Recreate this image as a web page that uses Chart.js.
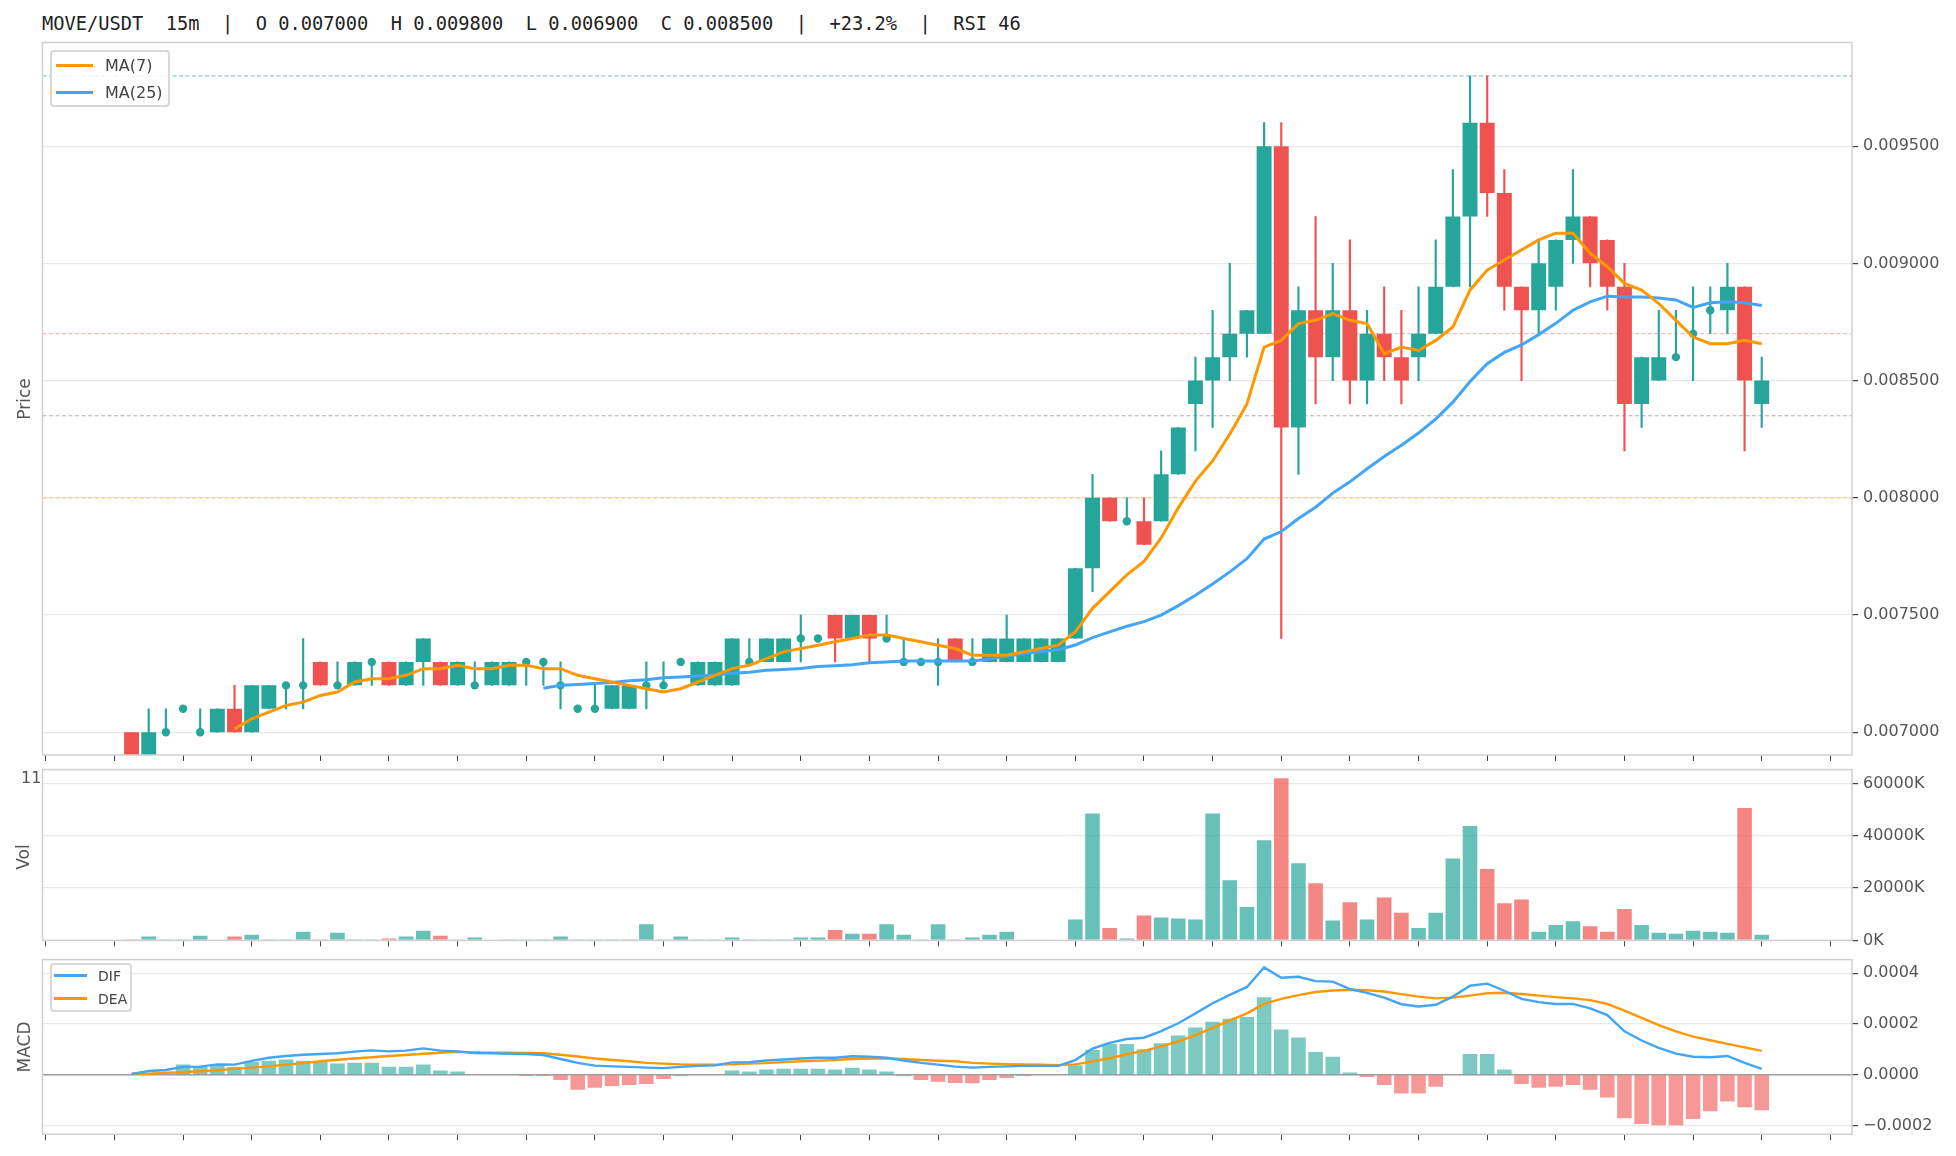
<!DOCTYPE html>
<html>
<head>
<meta charset="utf-8">
<title>MOVE/USDT 15m</title>
<script src="https://cdn.jsdelivr.net/npm/chart.js@4.4.0/dist/chart.umd.min.js"></script>
<style>
  html, body { margin: 0; padding: 0; background: #fff; }
  body { position: relative; width: 1956px; height: 1156px; overflow: hidden; font-family: 'DejaVu Sans', sans-serif; }
  canvas { position: absolute; left: 0; }
  #title { position: absolute; left: 42px; top: 14.5px; font: 18.7px/1 'DejaVu Sans Mono', monospace; color: #222; white-space: pre; }
  .axis-title { position: absolute; font-size: 17px; color: #555; transform: translate(-50%, -50%) rotate(-90deg); white-space: nowrap; }
  .legend { position: absolute; border: 2px solid #d8d8d8; border-radius: 4px; background: rgba(255,255,255,0.85); }
  .legend .swatch { position: absolute; }
  .legend .label { position: absolute; color: #444; line-height: 1; }
  .stray { position: absolute; font-size: 16px; color: #555; line-height: 1; }
</style>
</head>
<body>

<div id="title">MOVE/USDT  15m  |  O 0.007000  H 0.009800  L 0.006900  C 0.008500  |  +23.2%  |  RSI 46</div>

<canvas id="price-chart" width="1956" height="770" style="top:0"></canvas>
<canvas id="vol-chart" width="1956" height="200" style="top:755px"></canvas>
<canvas id="macd-chart" width="1956" height="211" style="top:945px"></canvas>

<div class="axis-title" style="left:24px; top:399px">Price</div>
<div class="axis-title" style="left:23px; top:857px">Vol</div>
<div class="axis-title" style="left:24px; top:1047px">MACD</div>

<div class="legend" style="left:50px; top:50px; width:116px; height:53px">
  <div class="swatch" style="left:4px; top:12px; width:37px; height:3px; background:#ff9800"></div>
  <div class="label" style="left:53px; top:6px; font-size:16px">MA(7)</div>
  <div class="swatch" style="left:4px; top:39px; width:37px; height:3px; background:#42a5f5"></div>
  <div class="label" style="left:53px; top:33px; font-size:16px">MA(25)</div>
</div>

<div class="legend" style="left:50px; top:963px; width:78px; height:45px">
  <div class="swatch" style="left:2px; top:9px; width:33px; height:2.5px; background:#42a5f5"></div>
  <div class="label" style="left:46px; top:4px; font-size:14px">DIF</div>
  <div class="swatch" style="left:2px; top:32px; width:33px; height:2.5px; background:#ff9800"></div>
  <div class="label" style="left:46px; top:27px; font-size:14px">DEA</div>
</div>

<div class="stray" style="left:21px; top:770px">11</div>

<script>
const opens = [
  0.0070, 0.0069, 0.0070, 0.0071, 0.0070, 0.0070, 0.0071, 0.0070, 0.0071, 0.0072,
  0.0072, 0.0073, 0.0072, 0.0072, 0.0073, 0.0073, 0.0072, 0.0073, 0.0073, 0.0072,
  0.0072, 0.0072, 0.0072, 0.0073, 0.0073, 0.0072, 0.0071, 0.0071, 0.0071, 0.0071,
  0.0072, 0.0072, 0.0073, 0.0072, 0.0072, 0.0072, 0.0073, 0.0073, 0.0073, 0.0074,
  0.0074, 0.0075, 0.0074, 0.0075, 0.0074, 0.0073, 0.0073, 0.0073, 0.0074, 0.0073,
  0.0073, 0.0073, 0.0073, 0.0073, 0.0073, 0.0074, 0.0077, 0.0080, 0.0079, 0.0079,
  0.0079, 0.0081, 0.0084, 0.0085, 0.0086, 0.0087, 0.0087, 0.0095, 0.0083, 0.0088,
  0.0086, 0.0088, 0.0085, 0.0087, 0.0086, 0.0086, 0.0087, 0.0089, 0.0092, 0.0096,
  0.0093, 0.0089, 0.0088, 0.0089, 0.0091, 0.0092, 0.0091, 0.0089, 0.0084, 0.0085,
  0.0086, 0.0087, 0.0088, 0.0088, 0.0089, 0.0084
];
const highs = [
  0.0070, 0.0071, 0.0071, 0.0071, 0.0071, 0.0071, 0.0072, 0.0072, 0.0072, 0.0072,
  0.0074, 0.0073, 0.0073, 0.0073, 0.0073, 0.0073, 0.0073, 0.0074, 0.0073, 0.0073,
  0.0073, 0.0073, 0.0073, 0.0073, 0.0073, 0.0073, 0.0071, 0.0072, 0.0072, 0.0072,
  0.0073, 0.0073, 0.0073, 0.0073, 0.0073, 0.0074, 0.0074, 0.0074, 0.0074, 0.0075,
  0.0074, 0.0075, 0.0075, 0.0075, 0.0075, 0.0074, 0.0073, 0.0074, 0.0074, 0.0074,
  0.0074, 0.0075, 0.0074, 0.0074, 0.0074, 0.0077, 0.0081, 0.0080, 0.0080, 0.0080,
  0.0082, 0.0083, 0.0086, 0.0088, 0.0090, 0.0088, 0.0096, 0.0096, 0.0089, 0.0092,
  0.0090, 0.0091, 0.0088, 0.0089, 0.0088, 0.0089, 0.0091, 0.0094, 0.0098, 0.0098,
  0.0094, 0.0089, 0.0091, 0.0091, 0.0094, 0.0092, 0.0091, 0.0090, 0.0086, 0.0088,
  0.0088, 0.0089, 0.0089, 0.0090, 0.0089, 0.0086
];
const lows = [
  0.0069, 0.0069, 0.0070, 0.0071, 0.0070, 0.0070, 0.0070, 0.0070, 0.0071, 0.0071,
  0.0071, 0.0072, 0.0072, 0.0072, 0.0072, 0.0072, 0.0072, 0.0072, 0.0072, 0.0072,
  0.0072, 0.0072, 0.0072, 0.0072, 0.0072, 0.0071, 0.0071, 0.0071, 0.0071, 0.0071,
  0.0071, 0.0072, 0.0073, 0.0072, 0.0072, 0.0072, 0.0073, 0.0073, 0.0073, 0.0073,
  0.0074, 0.0073, 0.0074, 0.0073, 0.0074, 0.0073, 0.0073, 0.0072, 0.0073, 0.0073,
  0.0073, 0.0073, 0.0073, 0.0073, 0.0073, 0.0074, 0.0076, 0.0079, 0.0079, 0.0078,
  0.0079, 0.0081, 0.0082, 0.0083, 0.0085, 0.0086, 0.0087, 0.0074, 0.0081, 0.0084,
  0.0085, 0.0084, 0.0084, 0.0085, 0.0084, 0.0085, 0.0087, 0.0089, 0.0089, 0.0092,
  0.0088, 0.0085, 0.0087, 0.0088, 0.0090, 0.0089, 0.0088, 0.0082, 0.0083, 0.0085,
  0.0086, 0.0085, 0.0087, 0.0087, 0.0082, 0.0083
];
const closes = [
  0.0069, 0.0070, 0.0070, 0.0071, 0.0070, 0.0071, 0.0070, 0.0072, 0.0072, 0.0072,
  0.0072, 0.0072, 0.0072, 0.0073, 0.0073, 0.0072, 0.0073, 0.0074, 0.0072, 0.0073,
  0.0072, 0.0073, 0.0073, 0.0073, 0.0073, 0.0072, 0.0071, 0.0071, 0.0072, 0.0072,
  0.0072, 0.0072, 0.0073, 0.0073, 0.0073, 0.0074, 0.0073, 0.0074, 0.0074, 0.0074,
  0.0074, 0.0074, 0.0075, 0.0074, 0.0074, 0.0073, 0.0073, 0.0073, 0.0073, 0.0073,
  0.0074, 0.0074, 0.0074, 0.0074, 0.0074, 0.0077, 0.0080, 0.0079, 0.0079, 0.0078,
  0.0081, 0.0083, 0.0085, 0.0086, 0.0087, 0.0088, 0.0095, 0.0083, 0.0088, 0.0086,
  0.0088, 0.0085, 0.0087, 0.0086, 0.0085, 0.0087, 0.0089, 0.0092, 0.0096, 0.0093,
  0.0089, 0.0088, 0.0090, 0.0091, 0.0092, 0.0090, 0.0089, 0.0084, 0.0086, 0.0086,
  0.0086, 0.0087, 0.0088, 0.0089, 0.0085, 0.0085
];

// moving averages as drawn (null before the window fills)
const ma7 = [
  null, null, null, null, null, null, 0.0070143, 0.0070571, 0.0070857, 0.0071143,
  0.0071286, 0.0071571, 0.0071714, 0.0072143, 0.0072286, 0.0072286, 0.0072429, 0.0072714, 0.0072714, 0.0072857,
  0.0072714, 0.0072714, 0.0072857, 0.0072857, 0.0072714, 0.0072714, 0.0072429, 0.0072286, 0.0072143, 0.0072000,
  0.0071857, 0.0071714, 0.0071857, 0.0072143, 0.0072429, 0.0072714, 0.0072857, 0.0073143, 0.0073429, 0.0073571,
  0.0073714, 0.0073857, 0.0074000, 0.0074143, 0.0074143, 0.0074000, 0.0073857, 0.0073714, 0.0073571, 0.0073286,
  0.0073286, 0.0073286, 0.0073429, 0.0073571, 0.0073714, 0.0074286, 0.0075286, 0.0076000, 0.0076714, 0.0077286,
  0.0078286, 0.0079571, 0.0080714, 0.0081571, 0.0082714, 0.0084000, 0.0086429, 0.0086714, 0.0087429, 0.0087571,
  0.0087857, 0.0087571, 0.0087429, 0.0086143, 0.0086429, 0.0086286, 0.0086714, 0.0087286, 0.0088857, 0.0089714,
  0.0090143, 0.0090571, 0.0091000, 0.0091286, 0.0091286, 0.0090429, 0.0089857, 0.0089143, 0.0088857, 0.0088286,
  0.0087571, 0.0086857, 0.0086571, 0.0086571, 0.0086714, 0.0086571
];
const ma25 = [
  null, null, null, null, null, null, null, null, null, null,
  null, null, null, null, null, null, null, null, null, null,
  null, null, null, null, 0.007188, 0.007200, 0.007204, 0.007208, 0.007212, 0.007220,
  0.007224, 0.007232, 0.007236, 0.007240, 0.007244, 0.007252, 0.007256, 0.007264, 0.007268, 0.007272,
  0.007280, 0.007284, 0.007288, 0.007296, 0.007300, 0.007304, 0.007304, 0.007304, 0.007304, 0.007304,
  0.007312, 0.007324, 0.007336, 0.007344, 0.007352, 0.007372, 0.007404, 0.007428, 0.007452, 0.007472,
  0.007500, 0.007540, 0.007584, 0.007632, 0.007684, 0.007740, 0.007824, 0.007856, 0.007912, 0.007960,
  0.008020, 0.008068, 0.008124, 0.008176, 0.008224, 0.008276, 0.008336, 0.008408, 0.008496, 0.008572,
  0.008620, 0.008652, 0.008696, 0.008744, 0.008800, 0.008836, 0.008860, 0.008856, 0.008856, 0.008852,
  0.008844, 0.008812, 0.008832, 0.008836, 0.008832, 0.008820
];

// volume in K
const volumes = [
  350, 1450, 350, 350, 1800, 0, 1450, 2200, 350, 350,
  3300, 350, 2900, 350, 350, 700, 1450, 3650, 1800, 350,
  1100, 0, 350, 350, 350, 1450, 350, 350, 350, 350,
  6200, 350, 1450, 350, 350, 1100, 350, 350, 350, 1100,
  1100, 4000, 2550, 2550, 6200, 2200, 350, 6200, 350, 1100,
  2200, 3300, 0, 0, 0, 8000, 48500, 4750, 700, 9500,
  8750, 8400, 8000, 48500, 22950, 12750, 38250, 61950, 29500, 21850,
  7650, 14550, 8000, 16400, 10550, 4750, 10550, 31350, 43700, 27300,
  14200, 15650, 3300, 5850, 7300, 5450, 3300, 12000, 5850, 2900,
  2550, 3650, 3300, 2900, 50650, 2200
];

// MACD panel
const dif = [
  0.0000030, 0.0000150, 0.0000190, 0.0000310, 0.0000320, 0.0000410, 0.0000400, 0.0000550, 0.0000670, 0.0000740,
  0.0000790, 0.0000820, 0.0000850, 0.0000910, 0.0000960, 0.0000920, 0.0000950, 0.0001040, 0.0000950, 0.0000920,
  0.0000860, 0.0000850, 0.0000830, 0.0000820, 0.0000780, 0.0000620, 0.0000470, 0.0000360, 0.0000330, 0.0000310,
  0.0000280, 0.0000260, 0.0000310, 0.0000350, 0.0000370, 0.0000490, 0.0000500, 0.0000560, 0.0000600, 0.0000640,
  0.0000670, 0.0000670, 0.0000730, 0.0000710, 0.0000670, 0.0000560, 0.0000470, 0.0000400, 0.0000320, 0.0000280,
  0.0000310, 0.0000330, 0.0000350, 0.0000350, 0.0000350, 0.0000580, 0.0001030, 0.0001260, 0.0001410, 0.0001460,
  0.0001720, 0.0002030, 0.0002420, 0.0002820, 0.0003150, 0.0003460, 0.0004230, 0.0003820, 0.0003860, 0.0003690,
  0.0003670, 0.0003380, 0.0003230, 0.0003040, 0.0002780, 0.0002690, 0.0002760, 0.0003080, 0.0003510, 0.0003590,
  0.0003310, 0.0002990, 0.0002860, 0.0002790, 0.0002790, 0.0002620, 0.0002350, 0.0001710, 0.0001350, 0.0001060,
  0.0000830, 0.0000710, 0.0000690, 0.0000740, 0.0000470, 0.0000230
];
const dea = [
  0.0000040, 0.0000040, 0.0000080, 0.0000100, 0.0000140, 0.0000180, 0.0000230, 0.0000280, 0.0000330, 0.0000400,
  0.0000460, 0.0000530, 0.0000590, 0.0000640, 0.0000690, 0.0000740, 0.0000780, 0.0000830, 0.0000870, 0.0000900,
  0.0000880, 0.0000870, 0.0000870, 0.0000860, 0.0000850, 0.0000790, 0.0000720, 0.0000640, 0.0000580, 0.0000530,
  0.0000470, 0.0000440, 0.0000410, 0.0000400, 0.0000400, 0.0000410, 0.0000440, 0.0000460, 0.0000500, 0.0000530,
  0.0000550, 0.0000580, 0.0000620, 0.0000640, 0.0000640, 0.0000620, 0.0000580, 0.0000550, 0.0000530, 0.0000470,
  0.0000440, 0.0000420, 0.0000410, 0.0000400, 0.0000380, 0.0000410, 0.0000530, 0.0000650, 0.0000810, 0.0000940,
  0.0001120, 0.0001310, 0.0001560, 0.0001850, 0.0002140, 0.0002420, 0.0002790, 0.0002990, 0.0003140, 0.0003260,
  0.0003320, 0.0003350, 0.0003330, 0.0003280, 0.0003180, 0.0003080, 0.0003010, 0.0003040, 0.0003120, 0.0003210,
  0.0003230, 0.0003180, 0.0003120, 0.0003060, 0.0003010, 0.0002940, 0.0002790, 0.0002530, 0.0002240, 0.0001960,
  0.0001710, 0.0001500, 0.0001360, 0.0001220, 0.0001080, 0.0000940
];
const macdHist = [
  0, 0, 0, 0.0000400, 0.0000320, 0.0000420, 0.0000320, 0.0000510, 0.0000550, 0.0000600,
  0.0000550, 0.0000510, 0.0000440, 0.0000470, 0.0000470, 0.0000320, 0.0000320, 0.0000400, 0.0000170, 0.0000130,
  0, 0, 0, -0.0000050, -0.0000050, -0.0000210, -0.0000590, -0.0000510, -0.0000440, -0.0000400,
  -0.0000360, -0.0000170, -0.0000050, 0, 0, 0.0000170, 0.0000130, 0.0000210, 0.0000240, 0.0000240,
  0.0000240, 0.0000210, 0.0000280, 0.0000210, 0.0000130, -0.0000050, -0.0000210, -0.0000280, -0.0000320, -0.0000330,
  -0.0000210, -0.0000130, -0.0000050, 0, 0, 0.0000370, 0.0000990, 0.0001210, 0.0001210, 0.0001010,
  0.0001240, 0.0001550, 0.0001860, 0.0002090, 0.0002210, 0.0002280, 0.0003050, 0.0001780, 0.0001470, 0.0000900,
  0.0000710, 0.0000090, -0.0000090, -0.0000400, -0.0000740, -0.0000740, -0.0000470, 0, 0.0000820, 0.0000820,
  0.0000210, -0.0000360, -0.0000510, -0.0000470, -0.0000400, -0.0000590, -0.0000900, -0.0001710, -0.0001940, -0.0001990,
  -0.0001990, -0.0001740, -0.0001440, -0.0001050, -0.0001280, -0.0001400
];

// axis ticks and reference levels
const xTickVals = [-5, -1, 3, 7, 11, 15, 19, 23, 27, 31, 35, 39, 43, 47, 51, 55, 59, 63, 67, 71, 75, 79, 83, 87, 91, 95, 99];
const priceTicks = [0.0070, 0.0075, 0.0080, 0.0085, 0.0090, 0.0095];
const volTicks = [0, 20000, 40000, 60000];
const macdTicks = [-0.0002, 0, 0.0002, 0.0004];
const levelLines = [0.0098, 0.0087, 0.00835, 0.0080];
const levelColors = ['rgba(38,166,154,0.55)', 'rgba(239,83,80,0.4)', 'rgba(120,120,120,0.6)', 'rgba(255,170,40,0.5)'];

const upColor = '#26a69a';
const downColor = '#ef5350';
const xMin = -5.19, xMax = 100.26;

Chart.defaults.font.family = "'DejaVu Sans', sans-serif";
Chart.defaults.font.size = 16;
Chart.defaults.color = '#555';

const isUp = i => closes[i] >= opens[i];
const points = arr => arr.map((v, i) => ({ x: i, y: v }));

// panel frame + horizontal reference lines
const panelDeco = {
  id: 'panelDeco',
  beforeDatasetsDraw(chart, args, opts) {
    const { ctx, chartArea: a, scales: { y } } = chart;
    (opts.lines || []).forEach(l => {
      const py = y.getPixelForValue(l.value);
      ctx.save();
      ctx.strokeStyle = l.color;
      ctx.lineWidth = l.width || 1.2;
      ctx.setLineDash(l.dash || []);
      ctx.beginPath();
      ctx.moveTo(a.left, py);
      ctx.lineTo(a.right, py);
      ctx.stroke();
      ctx.restore();
    });
  },
  afterDraw(chart) {
    const { ctx, chartArea: a } = chart;
    ctx.save();
    ctx.strokeStyle = '#d0d0d0';
    ctx.lineWidth = 1.5;
    ctx.strokeRect(a.left, a.top, a.right - a.left, a.bottom - a.top);
    ctx.restore();
  }
};

function xScale(axisHeight) {
  return {
    type: 'linear',
    min: xMin,
    max: xMax,
    offset: false,
    afterBuildTicks: s => { s.ticks = xTickVals.map(v => ({ value: v })); },
    afterFit: s => { s.height = axisHeight; },
    ticks: { display: false },
    grid: { drawOnChartArea: false, drawTicks: true, tickLength: 6, tickColor: '#444', offset: false },
    border: { display: false }
  };
}

function yScale(min, max, tickVals, fmt) {
  return {
    position: 'right',
    min: min,
    max: max,
    afterBuildTicks: s => { s.ticks = tickVals.map(v => ({ value: v })); },
    afterFit: s => { s.width = 104; },
    ticks: { callback: fmt, padding: 5, color: '#555', font: { size: 16 } },
    grid: { color: '#e9e9e9', lineWidth: 1.2, drawTicks: true, tickLength: 6, tickColor: '#444' },
    border: { display: false }
  };
}

const common = {
  responsive: false,
  animation: false,
  events: [],
  plugins: { legend: { display: false }, tooltip: { enabled: false } }
};

// price panel
const dojis = [];
opens.forEach((o, i) => { if (o === closes[i]) dojis.push({ x: i, y: closes[i] }); });

new Chart(document.getElementById('price-chart'), {
  type: 'bar',
  data: {
    datasets: [
      { type: 'line', label: 'MA(7)', data: points(ma7), borderColor: '#ff9800', borderWidth: 3, pointRadius: 0, tension: 0, order: 0 },
      { type: 'line', label: 'MA(25)', data: points(ma25), borderColor: '#42a5f5', borderWidth: 3, pointRadius: 0, tension: 0, order: 0 },
      { type: 'scatter', data: dojis, backgroundColor: upColor, borderWidth: 0, pointRadius: 4.2, order: 1 },
      {
        type: 'bar',
        data: opens.map((o, i) => ({ x: i, y: [o, closes[i]] })),
        backgroundColor: c => isUp(c.dataIndex) ? upColor : downColor,
        borderWidth: 0, grouped: false, categoryPercentage: 1, barPercentage: 0.87, order: 2
      },
      {
        type: 'bar',
        data: lows.map((l, i) => ({ x: i, y: [l, highs[i]] })),
        backgroundColor: c => isUp(c.dataIndex) ? upColor : downColor,
        borderWidth: 0, grouped: false, barThickness: 1.5, order: 3
      }
    ]
  },
  options: {
    ...common,
    layout: { padding: { top: 42.5, left: 42.5, right: 0, bottom: 0 } },
    scales: {
      x: xScale(15),
      y: yScale(0.006903, 0.009942, priceTicks, v => v.toFixed(6))
    },
    plugins: {
      ...common.plugins,
      panelDeco: { lines: levelLines.map((v, k) => ({ value: v, color: levelColors[k], dash: [4, 2.5], width: 1.2 })) }
    }
  },
  plugins: [panelDeco]
});

// volume panel
new Chart(document.getElementById('vol-chart'), {
  type: 'bar',
  data: {
    datasets: [{
      data: points(volumes),
      backgroundColor: c => isUp(c.dataIndex) ? 'rgba(38,166,154,0.7)' : 'rgba(239,83,80,0.7)',
      borderWidth: 0, categoryPercentage: 1, barPercentage: 0.85
    }]
  },
  options: {
    ...common,
    layout: { padding: { top: 11.5, left: 42.5, right: 0, bottom: 0 } },
    scales: {
      x: xScale(10),
      y: yScale(0, 65300, volTicks, v => v.toFixed(0) + 'K')
    }
  },
  plugins: [panelDeco]
});

// MACD panel
new Chart(document.getElementById('macd-chart'), {
  type: 'bar',
  data: {
    datasets: [
      { type: 'line', label: 'DIF', data: points(dif), borderColor: '#42a5f5', borderWidth: 2.4, pointRadius: 0, tension: 0, order: 0 },
      { type: 'line', label: 'DEA', data: points(dea), borderColor: '#ff9800', borderWidth: 2.4, pointRadius: 0, tension: 0, order: 0 },
      {
        type: 'bar',
        data: points(macdHist),
        backgroundColor: c => macdHist[c.dataIndex] >= 0 ? 'rgba(38,166,154,0.6)' : 'rgba(239,83,80,0.6)',
        borderWidth: 0, categoryPercentage: 1, barPercentage: 0.85, order: 1
      }
    ]
  },
  options: {
    ...common,
    layout: { padding: { top: 10.3, left: 42.5, right: 0, bottom: 0 } },
    scales: {
      x: xScale(21.7),
      y: yScale(-0.0002346, 0.0004538, macdTicks, v => (v < 0 ? '\u2212' : '') + Math.abs(v).toFixed(4))
    },
    plugins: {
      ...common.plugins,
      panelDeco: { lines: [{ value: 0, color: '#9e9e9e', width: 1.5 }] }
    }
  },
  plugins: [panelDeco]
});
</script>
</body>
</html>
